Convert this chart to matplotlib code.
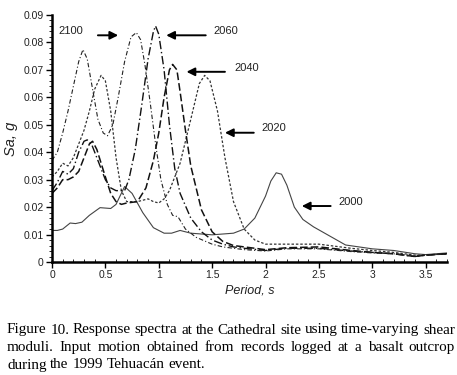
import numpy as np
import matplotlib.pyplot as plt
from matplotlib.ticker import MultipleLocator

# Response spectra (period in s, Sa in g)
t2000 = [0, 0.05, 0.1, 0.17, 0.22, 0.28, 0.35, 0.45, 0.55, 0.6, 0.68, 0.75, 0.85, 0.95, 1.05, 1.12, 1.2,
         1.3, 1.5, 1.7, 1.8, 1.9, 2.0, 2.05, 2.1, 2.15, 2.2, 2.27, 2.35, 2.45, 2.6, 2.75, 3.0, 3.2, 3.4, 3.5, 3.7]
sa2000 = [0.0115, 0.0115, 0.012, 0.0142, 0.014, 0.0145, 0.017, 0.0198, 0.0195, 0.021, 0.0275, 0.025, 0.018,
          0.0125, 0.0105, 0.0105, 0.0115, 0.0105, 0.0099, 0.0105, 0.012, 0.016, 0.024, 0.0295, 0.0325, 0.032,
          0.028, 0.02, 0.0155, 0.0128, 0.0095, 0.0062, 0.0048, 0.0042, 0.003, 0.0027, 0.0033]

t2020 = [0, 0.05, 0.1, 0.15, 0.2, 0.25, 0.3, 0.35, 0.4, 0.46, 0.5, 0.55, 0.6, 0.65, 0.7, 0.8, 0.9, 0.95, 1.0,
         1.05, 1.1, 1.2, 1.3, 1.38, 1.43, 1.48, 1.55, 1.62, 1.7, 1.8, 1.9, 2.0, 2.2, 2.5, 2.8, 3.0, 3.2, 3.4, 3.5, 3.7]
sa2020 = [0.031, 0.033, 0.036, 0.035, 0.038, 0.043, 0.048, 0.055, 0.063, 0.068, 0.066, 0.055, 0.038, 0.026,
          0.022, 0.022, 0.023, 0.022, 0.0215, 0.023, 0.026, 0.036, 0.052, 0.065, 0.068, 0.066, 0.055, 0.038,
          0.022, 0.012, 0.008, 0.0065, 0.0065, 0.0065, 0.005, 0.0042, 0.0035, 0.0025, 0.0025, 0.003]

t2040 = [0, 0.05, 0.1, 0.15, 0.2, 0.25, 0.3, 0.35, 0.38, 0.42, 0.5, 0.55, 0.6, 0.65, 0.7, 0.8, 0.88, 0.95,
         1.0, 1.05, 1.1, 1.13, 1.17, 1.2, 1.25, 1.3, 1.4, 1.5, 1.6, 1.7, 1.8, 1.9, 2.0, 2.2, 2.5, 2.8, 3.0,
         3.2, 3.4, 3.5, 3.7]
sa2040 = [0.025, 0.027, 0.03, 0.03, 0.031, 0.033, 0.038, 0.043, 0.044, 0.041, 0.031, 0.025, 0.022, 0.021,
          0.0215, 0.022, 0.027, 0.037, 0.047, 0.06, 0.07, 0.072, 0.07, 0.062, 0.048, 0.035, 0.019, 0.011,
          0.0075, 0.006, 0.0055, 0.005, 0.0045, 0.0052, 0.0055, 0.0042, 0.0035, 0.003, 0.002, 0.0025, 0.003]

t2060 = [0, 0.05, 0.1, 0.15, 0.2, 0.25, 0.3, 0.33, 0.37, 0.42, 0.5, 0.55, 0.6, 0.68, 0.72, 0.78, 0.84, 0.9,
         0.95, 0.97, 1.0, 1.05, 1.1, 1.15, 1.2, 1.3, 1.4, 1.5, 1.6, 1.7, 1.8, 2.0, 2.2, 2.5, 2.8, 3.0, 3.2,
         3.4, 3.5, 3.7]
sa2060 = [0.026, 0.029, 0.033, 0.032, 0.034, 0.04, 0.044, 0.0445, 0.043, 0.038, 0.03, 0.027, 0.026, 0.026,
          0.03, 0.041, 0.057, 0.074, 0.084, 0.086, 0.083, 0.07, 0.05, 0.034, 0.025, 0.016, 0.011, 0.008,
          0.0065, 0.0055, 0.005, 0.0042, 0.005, 0.005, 0.004, 0.0035, 0.003, 0.002, 0.0025, 0.003]

t2100 = [0, 0.05, 0.1, 0.15, 0.2, 0.25, 0.29, 0.33, 0.38, 0.43, 0.48, 0.52, 0.57, 0.62, 0.68, 0.74, 0.79,
         0.83, 0.87, 0.92, 0.97, 1.02, 1.08, 1.13, 1.18, 1.25, 1.35, 1.5, 1.6, 1.7, 1.8, 2.0, 2.2, 2.5, 2.8,
         3.0, 3.2, 3.4, 3.5, 3.7]
sa2100 = [0.037, 0.04, 0.047, 0.055, 0.064, 0.073, 0.0774, 0.074, 0.063, 0.052, 0.047, 0.046, 0.05, 0.06,
          0.073, 0.082, 0.0836, 0.081, 0.072, 0.058, 0.043, 0.03, 0.021, 0.017, 0.0165, 0.012, 0.009, 0.0065,
          0.0055, 0.005, 0.0045, 0.004, 0.0048, 0.0048, 0.0038, 0.0033, 0.003, 0.0022, 0.0025, 0.003]

# label text, arrow tail (x, y), arrow head (x, y)
labels = ['2100', '2060', '2040', '2020', '2000']
label_xy = [(0.18, 0.0843), (1.63, 0.0843), (1.82, 0.0708), (2.08, 0.0489), (2.80, 0.0219)]
arrow_tail = [(0.43, 0.0826), (1.44, 0.0826), (1.62, 0.0693), (1.89, 0.0471), (2.61, 0.0204)]
arrow_head = [(0.62, 0.0826), (1.07, 0.0826), (1.26, 0.0693), (1.62, 0.0471), (2.34, 0.0204)]

caption = ["Figure 10. Response spectra at the Cathedral site using time-varying shear",
           "moduli. Input motion obtained from records logged at a basalt outcrop",
           "during the 1999 Tehuacán event."]

plt.rcParams['font.family'] = ['Liberation Sans', 'DejaVu Sans']

W, H = 457, 375
fig = plt.figure(figsize=(W/100, H/100), dpi=100)
ax = fig.add_axes([52/W, 1-262/H, 395/W, 247/H])

ax.plot(t2000, sa2000, '-', color='#444444', lw=0.8)
ax.plot(t2020, sa2020, linestyle=(0, (2, 1.5)), color='#333333', lw=0.9)
ax.plot(t2040, sa2040, linestyle=(0, (5, 2)), color='#111111', lw=1.1)
ax.plot(t2060, sa2060, linestyle=(0, (6, 2, 1, 2)), color='#111111', lw=1.0)
ax.plot(t2100, sa2100, linestyle=(0, (4, 2, 1, 2)), color='#222222', lw=0.8)

for lab, lxy, tail, head in zip(labels, label_xy, arrow_tail, arrow_head):
    ax.text(lxy[0], lxy[1], lab, fontsize=8, ha='center', va='center', color='#222222')
    ax.annotate('', xy=head, xytext=tail,
                arrowprops=dict(arrowstyle='-|>', color='black', lw=1.4, mutation_scale=12, shrinkA=0, shrinkB=0))

ax.set_xlim(0, 3.7)
ax.set_ylim(0, 0.09)
ax.set_xticks([0, 0.5, 1, 1.5, 2, 2.5, 3, 3.5])
ax.set_xticklabels(['0', '0.5', '1', '1.5', '2', '2.5', '3', '3.5'])
ax.set_yticks(np.arange(0, 0.091, 0.01))
ax.set_yticklabels(['0'] + ['%.2f' % v for v in np.arange(0.01, 0.091, 0.01)])
ax.xaxis.set_minor_locator(MultipleLocator(0.1))
ax.yaxis.set_minor_locator(MultipleLocator(0.002))
ax.tick_params(which='major', length=4, width=1, labelsize=7.5, labelcolor='#222222', pad=2)
ax.tick_params(axis='x', which='minor', direction='in', length=2.5, width=0.6)
ax.tick_params(axis='y', which='minor', direction='out', length=2, width=0.6)
for s in ['top', 'right']:
    ax.spines[s].set_visible(False)
for s in ['left', 'bottom']:
    ax.spines[s].set_linewidth(1.8)

ax.set_xlabel('Period, s', fontsize=9, style='italic', color='#222222', labelpad=3)
ax.set_ylabel('Sa, g', fontsize=10.5, style='italic', color='#222222', labelpad=4)

# justified caption in a serif face
renderer = fig.canvas.get_renderer()
x0, x1 = 7, 455
ys = [330, 347.5, 365]
fs = 10.9
for i, line in enumerate(caption):
    words = line.split(' ')
    txts = [fig.text(0, 1-ys[i]/H, w, fontsize=fs, family='Liberation Serif', va='center', ha='left')
            for w in words]
    widths = [t.get_window_extent(renderer).width for t in txts]
    if i < len(caption) - 1:
        gap = (x1 - x0 - sum(widths)) / (len(words) - 1)
    else:
        gap = renderer.points_to_pixels(fs) * 0.25
    x = x0
    for t, w in zip(txts, widths):
        t.set_x(x / W)
        x += w + gap

fig.savefig('out.png', dpi=100)
